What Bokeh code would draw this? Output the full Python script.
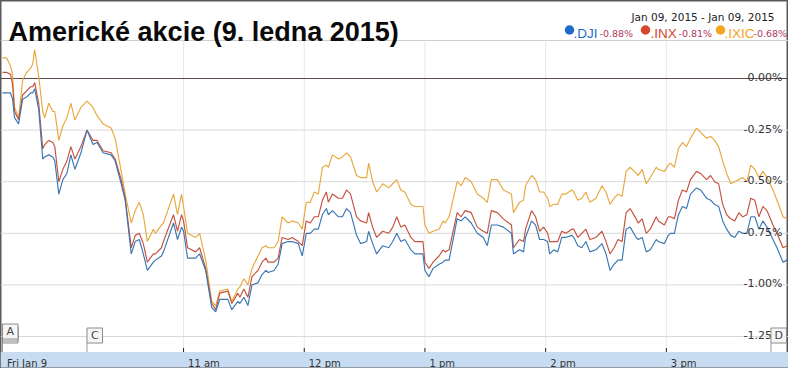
from bokeh.plotting import figure
from bokeh.models import Range1d
from bokeh.core.properties import value
from bokeh.embed import file_html
from bokeh.resources import INLINE

# ---------------- data ----------------
title_text = "Americké akcie (9. ledna 2015)"
date_range_text = "Jan 09, 2015 - Jan 09, 2015"
market_open = 570  # 9:30 in minutes after midnight

minutes_after_open = [
    0, 2, 4, 5, 6, 8, 10, 12, 14, 15,
    16, 18, 20, 21, 23, 25, 26, 28, 30, 32,
    34, 36, 39, 42, 45, 47, 50, 54, 56, 59,
    61, 64, 66, 68, 70, 72, 75, 76, 79, 80,
    85, 87, 89, 90, 92, 96, 98, 101, 104, 106,
    108, 112, 114, 117, 118, 120, 122, 124, 127, 129,
    131, 132, 135, 137, 139, 142, 144, 147, 149, 151,
    153, 155, 157, 159, 161, 162, 164, 167, 169, 171,
    173, 176, 178, 181, 182, 184, 186, 189, 192, 194,
    196, 198, 200, 203, 205, 209, 210, 212, 214, 217,
    219, 220, 222, 226, 228, 230, 233, 236, 239, 241,
    243, 246, 249, 253, 254, 257, 259, 260, 263, 265,
    267, 269, 271, 272, 274, 276, 278, 280, 283, 284,
    286, 288, 290, 292, 295, 298, 300, 302, 304, 306,
    308, 310, 312, 315, 316, 318, 320, 322, 325, 326,
    329, 331, 332, 334, 336, 338, 340, 342, 345, 347,
    350, 352, 354, 356, 358, 360, 362, 364, 366, 368,
    370, 372, 374, 376, 378, 380, 383, 385, 388, 390,
]

dji = [
    -0.07, -0.07, -0.07, -0.10, -0.19, -0.22, -0.10, -0.09, -0.07, -0.07,
    -0.05, -0.15, -0.39, -0.38, -0.37, -0.38, -0.40, -0.56, -0.49, -0.46,
    -0.37, -0.44, -0.36, -0.25, -0.32, -0.31, -0.36, -0.37, -0.40, -0.51,
    -0.59, -0.85, -0.79, -0.78, -0.85, -0.93, -0.89, -0.88, -0.86, -0.84,
    -0.70, -0.78, -0.72, -0.74, -0.87, -0.87, -0.85, -0.93, -1.11, -1.13,
    -1.07, -1.07, -1.12, -1.08, -1.09, -1.06, -1.10, -1.00, -0.99, -0.95,
    -0.93, -0.94, -0.93, -0.90, -0.80, -0.79, -0.79, -0.80, -0.86, -0.75,
    -0.75, -0.73, -0.73, -0.66, -0.63, -0.66, -0.64, -0.67, -0.67, -0.63,
    -0.65, -0.76, -0.80, -0.79, -0.74, -0.80, -0.85, -0.81, -0.82, -0.79,
    -0.75, -0.79, -0.78, -0.83, -0.85, -0.85, -0.93, -0.96, -0.92, -0.90,
    -0.89, -0.88, -0.88, -0.68, -0.69, -0.67, -0.70, -0.75, -0.77, -0.81,
    -0.71, -0.71, -0.72, -0.75, -0.85, -0.83, -0.84, -0.77, -0.69, -0.71,
    -0.78, -0.78, -0.79, -0.85, -0.83, -0.84, -0.77, -0.77, -0.76, -0.77,
    -0.81, -0.82, -0.79, -0.84, -0.83, -0.80, -0.85, -0.93, -0.90, -0.88,
    -0.88, -0.73, -0.72, -0.77, -0.78, -0.77, -0.84, -0.83, -0.78, -0.79,
    -0.80, -0.76, -0.75, -0.75, -0.66, -0.62, -0.63, -0.56, -0.53, -0.54,
    -0.58, -0.59, -0.61, -0.62, -0.69, -0.73, -0.76, -0.77, -0.74, -0.75,
    -0.75, -0.67, -0.67, -0.73, -0.69, -0.72, -0.78, -0.82, -0.89, -0.88,
]

inx = [
    0.03, 0.03, 0.02, -0.03, -0.16, -0.20, -0.08, -0.06, -0.04, -0.04,
    -0.02, -0.12, -0.34, -0.32, -0.30, -0.31, -0.33, -0.50, -0.44, -0.40,
    -0.33, -0.39, -0.33, -0.25, -0.30, -0.30, -0.35, -0.36, -0.39, -0.49,
    -0.58, -0.82, -0.76, -0.75, -0.80, -0.89, -0.85, -0.85, -0.82, -0.79,
    -0.66, -0.74, -0.66, -0.69, -0.82, -0.84, -0.82, -0.92, -1.09, -1.12,
    -1.04, -1.03, -1.09, -1.04, -1.06, -1.02, -1.06, -0.96, -0.93, -0.89,
    -0.87, -0.89, -0.89, -0.87, -0.77, -0.78, -0.77, -0.79, -0.81, -0.69,
    -0.70, -0.67, -0.67, -0.59, -0.55, -0.60, -0.56, -0.58, -0.58, -0.54,
    -0.56, -0.67, -0.69, -0.70, -0.65, -0.72, -0.77, -0.74, -0.75, -0.72,
    -0.67, -0.72, -0.71, -0.77, -0.79, -0.79, -0.89, -0.92, -0.89, -0.86,
    -0.83, -0.84, -0.83, -0.65, -0.67, -0.64, -0.65, -0.72, -0.74, -0.75,
    -0.64, -0.65, -0.68, -0.71, -0.82, -0.78, -0.79, -0.73, -0.64, -0.67,
    -0.74, -0.72, -0.75, -0.79, -0.79, -0.79, -0.74, -0.75, -0.73, -0.73,
    -0.77, -0.75, -0.73, -0.78, -0.77, -0.74, -0.79, -0.85, -0.82, -0.78,
    -0.79, -0.65, -0.63, -0.68, -0.70, -0.68, -0.75, -0.73, -0.67, -0.69,
    -0.71, -0.67, -0.67, -0.68, -0.59, -0.54, -0.55, -0.49, -0.45, -0.46,
    -0.49, -0.47, -0.50, -0.51, -0.61, -0.66, -0.68, -0.69, -0.65, -0.67,
    -0.66, -0.58, -0.59, -0.67, -0.62, -0.64, -0.71, -0.75, -0.82, -0.81,
]

ixic = [
    0.10, 0.10, 0.06, 0.02, -0.14, -0.19, -0.01, 0.03, 0.05, 0.07,
    0.14, 0.01, -0.16, -0.19, -0.12, -0.16, -0.16, -0.30, -0.23, -0.19,
    -0.12, -0.20, -0.14, -0.11, -0.14, -0.18, -0.22, -0.24, -0.29, -0.45,
    -0.56, -0.70, -0.64, -0.60, -0.66, -0.79, -0.73, -0.75, -0.71, -0.70,
    -0.56, -0.66, -0.56, -0.62, -0.75, -0.77, -0.75, -0.88, -1.08, -1.10,
    -1.03, -1.02, -1.08, -1.02, -1.01, -0.97, -1.00, -0.92, -0.86, -0.82,
    -0.81, -0.82, -0.82, -0.79, -0.67, -0.70, -0.69, -0.70, -0.73, -0.60,
    -0.60, -0.55, -0.56, -0.43, -0.42, -0.43, -0.37, -0.39, -0.38, -0.36,
    -0.38, -0.47, -0.48, -0.48, -0.41, -0.50, -0.55, -0.51, -0.53, -0.51,
    -0.49, -0.54, -0.55, -0.61, -0.62, -0.62, -0.71, -0.75, -0.74, -0.73,
    -0.69, -0.70, -0.67, -0.50, -0.52, -0.48, -0.50, -0.56, -0.58, -0.60,
    -0.49, -0.49, -0.54, -0.56, -0.65, -0.60, -0.59, -0.52, -0.47, -0.49,
    -0.55, -0.55, -0.58, -0.62, -0.61, -0.61, -0.56, -0.56, -0.54, -0.55,
    -0.59, -0.58, -0.55, -0.60, -0.58, -0.52, -0.55, -0.61, -0.58, -0.56,
    -0.57, -0.45, -0.43, -0.46, -0.47, -0.44, -0.51, -0.48, -0.43, -0.44,
    -0.45, -0.42, -0.41, -0.43, -0.34, -0.31, -0.33, -0.29, -0.24, -0.26,
    -0.29, -0.28, -0.30, -0.33, -0.40, -0.46, -0.51, -0.50, -0.49, -0.48,
    -0.50, -0.42, -0.44, -0.48, -0.45, -0.48, -0.54, -0.59, -0.67, -0.68,
]

series_names = [".DJI", ".INX", ".IXIC"]
series_changes = ["-0.88%", "-0.81%", "-0.68%"]

y_ticks = [0.0, -0.25, -0.5, -0.75, -1.0, -1.25]
y_tick_labels = ["0.00%", "-0.25%", "-0.50%", "-0.75%", "-1.00%", "-1.25%"]

x_ticks = [570, 660, 720, 780, 840, 900]
x_tick_labels = ["Fri Jan 9", "11 am", "12 pm", "1 pm", "2 pm", "3 pm"]

flag_letters = ["A", "C", "D"]
flag_minutes = [570, 612, 952]
flag_stack = [3, 1, 1]

# ---------------- styling / geometry ----------------
W, H = 788, 368
PX_PER_HOUR = 120.7          # px per hour
PX_PER_PCT = 206.4           # px per 1 %
ZERO_PX = 78.0               # px (from top) of the 0.00 % line
OPEN_PX = 2.0                # px (from left) of 9:30

def tx(px):
    return market_open + (px - OPEN_PX) * 60.0 / PX_PER_HOUR

def vy(py):
    return (ZERO_PX - py) / PX_PER_PCT

def dmin(px):
    return px * 60.0 / PX_PER_HOUR

line_colors = ["#3a76b2", "#c4513d", "#e8a83e"]
legend_colors = ["#1f6cc6", "#d4472b", "#f4a41f"]
change_color = "#b03a5c"
label_color = "#333333"

p = figure(width=W, height=H,
           x_range=Range1d(tx(0), tx(W)), y_range=Range1d(vy(H), vy(0)),
           x_axis_type=None, y_axis_type=None, title=None,
           output_backend="svg", toolbar_location=None, min_border=0,
           background_fill_color="white", border_fill_color="white")
p.outline_line_color = "#5a5a5a"
p.outline_line_width = 2

# separator under the title
p.segment(x0=[tx(0)], x1=[tx(W)], y0=[vy(40)], y1=[vy(40)],
          line_color="#cfcfcf", line_width=1)

# vertical hour grid lines
hours = x_ticks[1:]
p.segment(x0=hours, x1=hours, y0=[vy(40)] * len(hours), y1=[vy(351)] * len(hours),
          line_color="#e8e8e8", line_width=1)

# horizontal grid lines
grid_colors = ["#5e4c46" if t == 0 else "#d9d9d9" for t in y_ticks]
p.segment(x0=[tx(0)] * len(y_ticks), x1=[tx(W)] * len(y_ticks),
          y0=y_ticks, y1=y_ticks, line_color=grid_colors, line_width=1)

# bottom time band
p.quad(left=[tx(0)], right=[tx(W)], top=[vy(351.5)], bottom=[vy(367)],
       fill_color="#c8dcf1", line_color=None)
p.segment(x0=hours, x1=hours, y0=[vy(347.5)] * len(hours), y1=[vy(351.5)] * len(hours),
          line_color="#222222", line_width=1)
p.text(x=x_ticks, y=[vy(363)] * len(x_ticks), text=x_tick_labels,
       x_offset=4.5, text_font=value("DejaVu Sans"), text_font_size="10px",
       text_color=label_color, text_align="left", text_baseline="alphabetic")

# series lines
xs = [market_open + m for m in minutes_after_open]
for ys, col in ((ixic, line_colors[2]), (inx, line_colors[1]), (dji, line_colors[0])):
    p.line(xs, ys, line_color=col, line_width=1.15)

# y tick labels inside the plot on the right
p.text(x=[tx(W)] * len(y_ticks), y=y_ticks, text=y_tick_labels,
       x_offset=-6, y_offset=-1, text_font=value("DejaVu Sans"), text_font_size="11px",
       text_color=label_color, text_align="right", text_baseline="alphabetic")

# news flags
fw = dmin(15.5)
for letter, m, n in zip(flag_letters, flag_minutes, flag_stack):
    p.segment(x0=[m], x1=[m], y0=[vy(342.5)], y1=[vy(351.5)],
              line_color="#9a9a9a", line_width=1)
    for k in range(n):
        off = 2 * k
        p.quad(left=[m], right=[m + fw], top=[vy(327.5 - off)], bottom=[vy(342.5 - off)],
               fill_color="#f6f6f6", line_color="#8a8a8a", line_width=1)
    off = 2 * (n - 1)
    p.text(x=[m + fw / 2], y=[vy(335 - off)], text=[letter],
           text_font=value("DejaVu Sans"), text_font_size="11px", text_color="#444444",
           text_align="center", text_baseline="middle")

# title
p.text(x=[tx(8)], y=[vy(31)], text=[title_text], text_font=value("Liberation Sans"),
       text_font_style="bold", text_font_size="27px", text_color="#0a0a0a",
       text_align="left", text_baseline="alphabetic")

# date range
p.text(x=[tx(774)], y=[vy(16.5)], text=[date_range_text], text_font=value("DejaVu Sans"),
       text_font_size="10.5px", text_color="#222222", text_align="right",
       text_baseline="alphabetic")

# legend
dot_px = [569, 645, 720]
name_px = [573, 650, 724]
change_px = [599, 678, 753]
p.scatter(x=[tx(v) for v in dot_px], y=[vy(29.5)] * 3, size=9.5, marker="circle",
          fill_color=legend_colors, line_color=None)
p.text(x=[tx(v) for v in name_px], y=[vy(33)] * 3, text=series_names,
       text_font=value("Liberation Sans"), text_font_size="13.5px", text_color=legend_colors,
       text_align="left", text_baseline="alphabetic")
p.text(x=[tx(v) for v in change_px], y=[vy(33)] * 3, text=series_changes,
       text_font=value("DejaVu Sans"), text_font_size="9.5px", text_color=change_color,
       text_align="left", text_baseline="alphabetic")

open("out.html", "w").write(file_html(p, INLINE))
